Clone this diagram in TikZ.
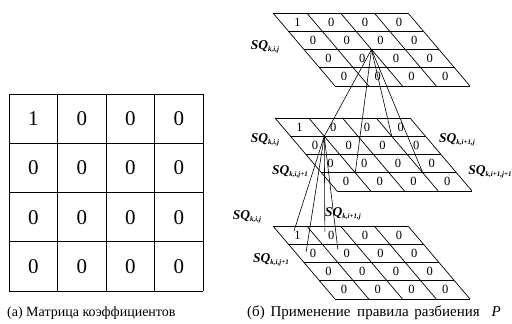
\documentclass[tikz,border=0pt]{standalone}
\usepackage{fontspec}
\setmainfont{Liberation Serif}
\begin{document}
\begin{tikzpicture}[x=1pt,y=-1pt,
  gridline/.style={line width=0.8pt},
  layerline/.style={line width=0.7pt},
  conn/.style={line width=0.6pt},
  bigdigit/.style={font=\fontsize{21}{21}\selectfont, inner sep=0pt},
  smalldigit/.style={font=\fontsize{12.5}{12.5}\selectfont, inner sep=0pt},
  sqlabel/.style={font=\fontsize{13.5}{13.5}\selectfont\bfseries\itshape, inner sep=0pt},
  caption/.style={font=\fontsize{14}{14}\selectfont, inner sep=0pt, anchor=west}]
\useasboundingbox (0,0) rectangle (512,324);
\newcommand{\sqsub}[1]{SQ\raisebox{-0.35ex}{\fontsize{7}{7}\selectfont #1}}
% left matrix
\foreach \i in {0,...,4} {
  \draw[gridline] ({9+\i*48.5},94) -- ({9+\i*48.5},291);
  \draw[gridline] (9,{94+\i*49.25}) -- (203,{94+\i*49.25});
}
\foreach \r in {0,...,3} \foreach \c in {0,...,3} {
  \node[bigdigit] (a-\r-\c) at ({9+(\c+0.5)*48.5},{94+(\r+0.5)*49.25})
    {\ifnum\r=0 \ifnum\c=0 1\else 0\fi\else 0\fi};
}
% layers
\foreach \L/\X/\Y in {t/273/13, m/275/118, b/273/226} {
  \foreach \r in {0,...,4} \foreach \c in {0,...,4} {
    \coordinate (\L-\r-\c) at ({\X+\c*33.75+\r*18.25*0.849},{\Y+\r*18.25});
  }
  \foreach \r in {0,...,3} \foreach \c in {0,...,3} {
    \node[smalldigit] (\L-d-\r-\c) at ({\X+(\c+0.5)*33.75+(\r+0.5)*18.25*0.849},{\Y+(\r+0.5)*18.25})
      {\ifnum\r=0 \ifnum\c=0 1\else 0\fi\else 0\fi};
  }
}
\foreach \L in {t,m,b} \foreach \i in {0,...,4} {
  \draw[layerline] (\L-\i-0) -- (\L-\i-4);
  \draw[layerline] (\L-0-\i) -- (\L-4-\i);
}
% connectors top -> middle
\foreach \p in {1-1,1-3,3-1,3-3} \draw[conn] (t-2-2) -- (m-\p);
% connector ends in bottom layer
\coordinate (e1) at ([shift={(-3.7,-4)}]b-d-0-0.center);
\coordinate (e2) at ([shift={(-6.5,-3)}]b-d-0-1.center);
\coordinate (e3) at ([shift={(-7,-1.4)}]b-d-1-0.center);
\coordinate (e4) at ([shift={(-9,-4)}]b-d-1-1.center);
\foreach \e in {e1,e2,e3,e4} \draw[conn] (m-1-1) -- (\e);
% labels
\node[sqlabel] (l1) at (265,47) {\sqsub{k,i,j}};
\node[sqlabel] (l2) at (265,140) {\sqsub{k,i,j}};
\node[sqlabel] (l3) at (457,140) {\sqsub{k,i+1,j}};
\node[sqlabel] (l4) at (290,172) {\sqsub{k,i,j+1}};
\node[sqlabel] (l5) at (490,172) {\sqsub{k,i+1,j+1}};
\node[sqlabel] (l6) at (247,217) {\sqsub{k,i,j}};
\node[sqlabel] (l7) at (343,214) {\sqsub{k,i+1,j}};
\node[sqlabel] (l8) at (271,260) {\sqsub{k,i,j+1}};
% captions
\node[caption] (c1) at (7,313) {(а) Матрица коэффициентов};
\node[caption, font=\fontsize{15}{15}\selectfont] (c2) at (247,313)
  {(б)\hspace{2pt} Применение\hspace{3pt} правила\hspace{2pt} разбиения\hspace{8pt} \textit{P}};
\end{tikzpicture}
\end{document}
